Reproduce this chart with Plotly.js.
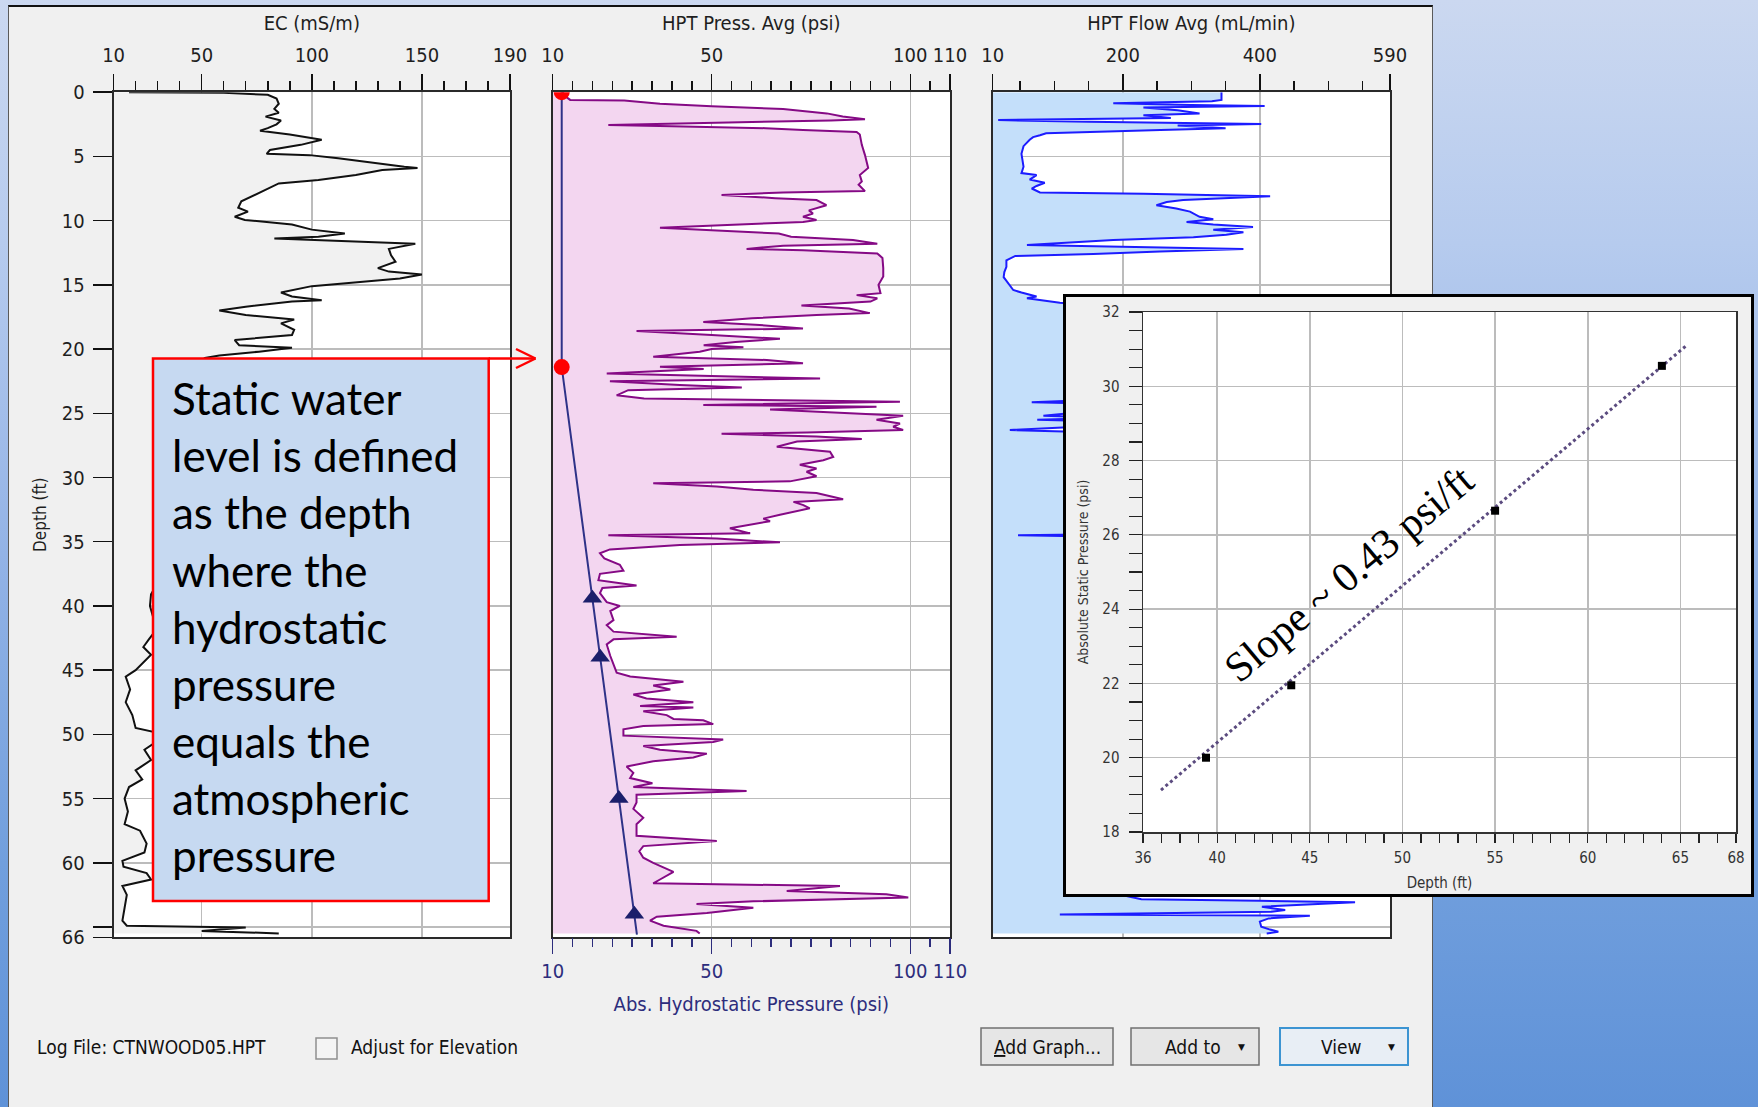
<!DOCTYPE html>
<html><head><meta charset="utf-8">
<script src="https://cdn.plot.ly/plotly-3.0.1.min.js"></script>
<style>
html,body{margin:0;padding:0;}
body{width:1758px;height:1107px;overflow:hidden;position:relative;
background:linear-gradient(to bottom,#cbd8f0 0%,#b6cbee 22%,#93b3e6 50%,#719fdd 78%,#5f92d8 100%);}
#win{position:absolute;left:8px;top:5px;width:1425px;height:1102px;background:#f0f0f0;border-top:2px solid #111;border-left:1px solid #5a5a5a;border-right:1px solid #5a5a5a;box-sizing:border-box;}
#main{position:absolute;left:0;top:0;width:1758px;height:1107px;}
#insetbox{position:absolute;left:1063px;top:294px;width:691px;height:603px;border:3px solid #000;box-sizing:border-box;background:#f0f0f0;}
#inset{width:685px;height:597px;}
</style></head>
<body>
<div id="win"></div>
<div id="main"></div>
<div id="insetbox"><div id="inset"></div></div>
<script>
// ---------------- DATA ----------------
const ecDepth = [0,0.05,0.2,0.5,0.9,1.3,1.6,1.9,2.2,2.5,2.8,3.0,3.3,3.7,4.1,4.5,4.8,4.9,5.15,5.5,5.8,5.9,6.06,6.45,6.84,7.1,7.5,8.0,8.5,9.0,9.3,9.7,9.95,10.3,10.7,11.0,11.25,11.4,11.6,11.8,12.2,12.7,13.2,13.7,13.97,14.2,14.5,14.75,15.1,15.6,15.9,16.2,16.3,16.7,17.0,17.35,17.7,18.0,18.5,18.9,19.3,19.7,19.9,20.2,20.5,20.7,21.5,23,25,27,29,31,33,35,37,38.5,39.1,40,40.9,41.5,42.6,43.2,43.8,44.3,45.0,45.5,46.5,47.5,48.5,49.5,49.8,50.5,51.2,52,52.8,53.5,54.1,55,56,57,57.5,58.5,59.2,59.85,60.3,60.8,61.3,61.8,62.5,63.5,64.5,64.9,65.04,65.3,65.5];
const ecValue = [17,60,80,84,85,83,85,79,86,84,80,76.5,90,104.5,95,81,79.5,99,112,127,142,148,132,120,103,85,80,74,68,66.6,71,65,69.6,91,100,115,103,83,112,147,135,136,138,130,135,150,140,124,100,86,91,104.5,91,70,58,70,92,86,92,91,65,67,91,76,58,51.5,45,40,42,38,36,40,37,34,32,29,27,26.5,28,31,26,23.5,27,24,20,15.5,17.5,15.5,18.5,20,28,30,24,27,20,23,17,15,16.5,15,22,25,24,14,14.5,25,27,14,16,15,14,16,70,50,85];

const hptDepth = [0,0.4,0.6,0.65,0.9,1.1,1.3,1.45,1.65,1.9,2.1,2.2,2.55,2.65,2.8,2.95,3.1,3.3,4.1,4.9,5.9,6.45,6.95,7.2,7.7,7.8,8.0,8.25,8.4,8.8,9.2,9.45,9.7,9.95,10.1,10.3,10.55,10.75,11.0,11.25,11.5,11.8,11.95,12.2,12.3,12.55,12.9,13.7,14.35,15.0,15.65,15.8,16.05,16.3,16.6,16.85,17.2,17.35,17.6,17.9,18.1,18.4,18.6,18.9,19.2,19.45,19.7,19.85,20.0,20.2,20.6,20.85,21.1,21.37,21.55,21.9,22.3,22.5,22.8,23.0,23.2,23.6,23.85,24.1,24.35,24.5,24.7,25.0,25.2,25.5,25.8,26.05,26.3,26.5,26.6,26.8,27.0,27.2,27.6,28.0,28.4,28.65,29.0,29.3,29.55,29.9,30.3,30.45,30.7,30.95,31.2,31.7,31.9,32.15,32.4,32.9,33.2,33.4,33.95,34.35,34.5,34.75,35.05,35.25,35.6,35.9,36.3,36.8,37.25,37.5,38.0,38.4,38.6,39.0,39.7,40.0,40.4,41.1,41.5,42.0,42.4,42.6,43.0,43.9,44.6,45.2,45.5,45.9,46.2,46.5,46.9,47.2,47.5,47.8,47.9,48.2,48.5,48.8,48.9,49.2,49.35,49.6,50.1,50.4,50.6,50.9,51.2,51.5,51.8,52.1,52.5,53.0,53.4,53.8,54.1,54.4,54.7,55.3,55.8,56.5,57.0,57.9,58.3,58.7,59.1,59.6,60.0,60.7,61.3,61.6,61.8,62.2,62.45,62.7,63.0,63.2,63.5,63.9,64.2,64.5,64.9,65.3,65.5];
const hptPress = [12.5,13.5,14.4,28,37,50,68,73,79,83,88.6,80,24,40,63.6,73,86.5,87.3,87.8,88.6,89.4,87.3,87.8,87,88.6,68,52.5,66,76.4,78.9,74.5,75.5,73,76.4,73,57,37,50,66.9,70,85.6,91.7,68,58.8,73,91.7,93,93.2,93.2,92,92.5,86.5,91.7,90,72.6,84.6,89.8,76.4,60.2,47.9,61,73,31.1,50,67.2,56,48,58,50,47,35.3,63.9,73,37,48,23.6,77.3,24.4,42,57.6,29,26.1,33,97.4,47.9,91.5,64.7,84.8,98.2,91.5,97.4,95.7,98.2,74,52.5,76.4,87.8,71.5,66.4,79.8,80.6,78.1,72.2,76.4,73.9,76.4,69.7,35.3,51.3,60.5,76.4,83.1,70.6,73.1,74.7,67.2,63,64.7,54.6,59.7,24,51.3,67.2,42,24.4,21.9,23,26.9,27.8,21.9,21.5,31.1,22.5,21.9,23.6,26.9,24.5,25.3,23.6,25.3,41.2,25.3,23.6,24.5,25.3,26.1,29.5,42.9,35.3,39.6,30.3,33.6,45.4,32,45.4,32.8,38.7,40.4,47.9,50.4,32.8,27.8,27.8,52.9,50.4,32.8,37,48.8,45.4,35.3,28.6,30.3,29.5,35.1,30.3,58.8,31.1,31.1,30.3,32.8,31.1,31.1,51.3,32.8,31.8,32.8,35.3,40.4,37,35.3,82.3,68.9,94,99.5,60.5,46.2,60.5,48.8,36.2,34.5,37.9,46.2,47];

const flowDepth = [0,0.6,0.7,0.87,1.0,1.08,1.2,1.4,1.65,1.8,2.0,2.17,2.3,2.48,2.6,2.8,2.95,3.1,3.2,3.35,3.5,3.7,4.2,4.8,5.8,6.3,6.45,6.8,7.05,7.3,7.5,7.8,7.9,8.1,8.4,8.55,8.8,9.05,9.3,9.7,9.9,10.1,10.3,10.5,10.7,10.9,11.1,11.3,11.5,11.9,12.05,12.2,12.4,12.6,12.75,13.1,13.6,14.0,14.4,14.9,15.4,15.6,15.9,16.05,16.2,16.4,16.6,17.2,18.0,18.8,19.5,20.3,21.0,21.8,22.5,23.3,23.9,24.15,24.3,24.8,25.2,25.35,25.5,25.65,26.0,26.3,26.5,27.2,28.0,29.0,30.0,31.0,32.0,33.0,34.0,34.4,34.5,34.65,35.5,36.5,38.0,40.0,42.0,44.0,46.0,48.0,50.0,52.0,54.0,56.0,58.0,60.0,61.5,62.3,62.84,62.95,63.08,63.42,63.68,63.81,64.02,64.12,64.33,64.58,64.97,65.2,65.37,65.5];
const flowValue = [344,344,330,186,300,407,230,280,312,230,270,18,150,402,280,350,255,132,88,79,69,64,55,52,55,52,74,64,86,74,67,79,230,415,288,264,249,278,298,312,332,293,332,390,332,376,351,303,186,60,200,376,254,157,43,30,30,27,26,33,40,52,74,60,80,108,160,230,260,210,280,240,300,220,270,200,180,67,200,160,84,180,75,190,150,35,170,210,190,230,250,200,220,240,260,200,47,220,380,450,480,500,470,510,420,380,400,450,430,480,470,440,350,180,227,400,539,403,437,417,108,473,413,400,402,415,427,410];

const hydroDepth = [0, 21.4, 65.6];
const hydroPress = [12.27, 12.27, 31.2];
const swlDepth = [0, 21.4];
const swlPress = [12.27, 12.27];
const calDepth = [39.4, 44.0, 55.0, 64.0];
const calPress = [20.0, 21.95, 26.65, 30.55];
const trendDepth = [36.97, 65.33];
const trendPress = [19.13, 31.10];

const depthTicks = [0,5,10,15,20,25,30,35,40,45,50,55,60,65,65.8];
const depthTickText = ['0','5','10','15','20','25','30','35','40','45','50','55','60','','66'];
const ecTicks = [10,50,100,150,190];
const pressTicks = [10,50,100,110];
const flowTicks = [10,200,400,590];
const insetXTicks = [36,40,45,50,55,60,65,68];
const insetYTicks = [18,20,22,24,26,28,30,32];
const noteLines = ['Static water','level is defined','as the depth','where the','hydrostatic','pressure','equals the','atmospheric','pressure'];

// ---------------- LAYOUT HELPERS ----------------
const W = 1758, H = 1107;
const px = x => x / W, py = y => 1 - y / H;
const NARROW = '"Liberation Sans Narrow", "Arial Narrow", "DejaVu Sans Condensed", sans-serif';
const TXT = '#1e1e1e', NAVY = '#2d2d7c', GRID = '#bcbcbc', LINE = '#2a2a2a';
const yDom = [py(937.3), py(92.2)];

function topAxis(dom, anchor, range, ticks, minorDtick, title) {
  return {
    domain: dom, anchor: anchor, side: 'top', range: range, tickmode: 'array', tickvals: ticks,
    ticks: 'outside', ticklen: 16, tickwidth: 1.5, tickcolor: '#111',
    minor: {tick0: 0, dtick: minorDtick, ticks: 'outside', ticklen: 9, tickwidth: 1.5, tickcolor: '#111', showgrid: false},
    showgrid: true, gridcolor: GRID, gridwidth: 1.5, zeroline: false,
    showline: true, mirror: true, linecolor: LINE, linewidth: 2,
    tickfont: {family: NARROW, size: 20, color: TXT}, ticklabelstandoff: 4,
    title: {text: title, font: {family: NARROW, size: 20, color: TXT}, standoff: 7}
  };
}
function depthAxis(anchor, labels) {
  return {
    domain: yDom, anchor: anchor, range: [65.8, 0], tickmode: 'array', tickvals: depthTicks, ticktext: depthTickText,
    ticks: labels ? 'outside' : '', ticklen: 19, tickwidth: 1.5, tickcolor: '#111', showticklabels: labels,
    showgrid: true, gridcolor: GRID, gridwidth: 1.5, zeroline: false,
    showline: true, mirror: true, linecolor: LINE, linewidth: 2,
    tickfont: {family: NARROW, size: 20, color: TXT}, ticklabelstandoff: 4,
    title: labels ? {text: 'Depth (ft)', font: {family: NARROW, size: 17, color: TXT}, standoff: 11} : {text: ''}
  };
}

const traces = [
  {x: ecValue, y: ecDepth, xaxis: 'x', yaxis: 'y', type: 'scatter', mode: 'lines', fill: 'tozerox', fillcolor: '#f1f1f1', line: {color: '#111', width: 2}},
  {x: hptPress, y: hptDepth, xaxis: 'x2', yaxis: 'y2', type: 'scatter', mode: 'lines', fill: 'tozerox', fillcolor: '#f3d6f0', line: {color: '#850a85', width: 2}},
  {x: flowValue, y: flowDepth, xaxis: 'x3', yaxis: 'y3', type: 'scatter', mode: 'lines', fill: 'tozerox', fillcolor: '#c4dffa', line: {color: '#1c1cff', width: 2}},
  {x: hydroPress, y: hydroDepth, xaxis: 'x4', yaxis: 'y2', type: 'scatter', mode: 'lines', line: {color: '#2e3288', width: 2}},
  {x: swlPress, y: swlDepth, xaxis: 'x4', yaxis: 'y2', type: 'scatter', mode: 'markers', marker: {color: '#ff0000', size: 16}},
  {x: calPress, y: calDepth, xaxis: 'x4', yaxis: 'y2', type: 'scatter', mode: 'markers', marker: {color: '#1b1f6b', size: 17, symbol: 'triangle-up'}}
];

const shapes = [
  {type: 'rect', xref: 'paper', yref: 'paper', x0: px(153), x1: px(488.7), y0: py(358.5), y1: py(901), fillcolor: '#c6d9f1', line: {color: '#ff0000', width: 2.5}, layer: 'above'},
  {type: 'line', xref: 'paper', yref: 'paper', x0: px(488.7), x1: px(535.5), y0: py(358.5), y1: py(358.5), line: {color: '#ff0000', width: 2.5}, layer: 'above'},
  {type: 'line', xref: 'paper', yref: 'paper', x0: px(516), x1: px(535.5), y0: py(349), y1: py(358.5), line: {color: '#ff0000', width: 2.5}, layer: 'above'},
  {type: 'line', xref: 'paper', yref: 'paper', x0: px(516), x1: px(535.5), y0: py(368), y1: py(358.5), line: {color: '#ff0000', width: 2.5}, layer: 'above'},
  // checkbox
  {type: 'rect', xref: 'paper', yref: 'paper', x0: px(316), x1: px(337), y0: py(1038), y1: py(1059), fillcolor: '#f4f4f4', line: {color: '#8e8f8f', width: 1.5}, layer: 'above'},
  // buttons
  {type: 'rect', xref: 'paper', yref: 'paper', x0: px(981), x1: px(1113), y0: py(1028), y1: py(1065), fillcolor: '#e6e6e6', line: {color: '#707070', width: 1.5}, layer: 'above'},
  {type: 'rect', xref: 'paper', yref: 'paper', x0: px(1131), x1: px(1259), y0: py(1028), y1: py(1065), fillcolor: '#e6e6e6', line: {color: '#707070', width: 1.5}, layer: 'above'},
  {type: 'rect', xref: 'paper', yref: 'paper', x0: px(1280), x1: px(1408), y0: py(1028), y1: py(1065), fillcolor: '#e8eef5', line: {color: '#3c94d2', width: 2}, layer: 'above'}
];

const annotations = [];
const FIRST_BASE = 415, GAP = 57.1, NOTE_SIZE = 44;
noteLines.forEach((t, i) => {
  annotations.push({xref: 'paper', yref: 'paper', x: px(169.5), y: py(FIRST_BASE + i * GAP - 0.38 * NOTE_SIZE),
    xanchor: 'left', yanchor: 'middle', text: t, showarrow: false, align: 'left',
    font: {family: 'Lato, "Open Sans", sans-serif', size: NOTE_SIZE, color: '#000'}});
});
const ui = [
  ['Log File: CTNWOOD05.HPT', 35, 'left'],
  ['Adjust for Elevation', 349, 'left'],
  ['<span style="text-decoration:underline">A</span>dd Graph...', 1047, 'center'],
  ['Add to', 1193, 'center'],
  ['View', 1341, 'center']
];
ui.forEach(u => annotations.push({xref: 'paper', yref: 'paper', x: px(u[1]), y: py(1047), xanchor: u[2], yanchor: 'middle',
  text: u[0], showarrow: false, font: {family: NARROW, size: 19, color: '#111'}}));
[1241, 1391].forEach(xp => annotations.push({xref: 'paper', yref: 'paper', x: px(xp), y: py(1047), xanchor: 'center', yanchor: 'middle',
  text: '▼', showarrow: false, font: {family: 'DejaVu Sans', size: 9, color: '#111'}}));

const layout = {
  width: W, height: H, margin: {l: 0, r: 0, t: 0, b: 0}, autosize: false,
  paper_bgcolor: 'rgba(0,0,0,0)', plot_bgcolor: '#ffffff', showlegend: false,
  xaxis: topAxis([px(113.6), px(510)], 'y', [10, 190], ecTicks, 10, 'EC (mS/m)'),
  xaxis2: topAxis([px(552.7), px(950)], 'y2', [10, 110], pressTicks, 5, 'HPT Press. Avg (psi)'),
  xaxis3: topAxis([px(992.7), px(1390)], 'y3', [10, 590], flowTicks, 50, 'HPT Flow Avg (mL/min)'),
  xaxis4: {overlaying: 'x2', anchor: 'y2', side: 'bottom', range: [10, 110], tickmode: 'array', tickvals: pressTicks,
    ticks: 'outside', ticklen: 16, tickwidth: 1.5, tickcolor: NAVY,
    minor: {tick0: 0, dtick: 5, ticks: 'outside', ticklen: 9, tickwidth: 1.5, tickcolor: NAVY, showgrid: false},
    showgrid: false, zeroline: false, showline: false,
    tickfont: {family: NARROW, size: 20, color: NAVY}, ticklabelstandoff: 0,
    title: {text: 'Abs. Hydrostatic Pressure (psi)', font: {family: NARROW, size: 20, color: NAVY}, standoff: 14}},
  yaxis: depthAxis('x', true),
  yaxis2: depthAxis('x2', false),
  yaxis3: depthAxis('x3', false),
  shapes: shapes,
  annotations: annotations
};
Plotly.newPlot('main', traces, layout, {staticPlot: true});

// ---------------- INSET ----------------
const insetTraces = [
  {x: trendDepth, y: trendPress, type: 'scatter', mode: 'lines', line: {color: '#5b4b7f', width: 3, dash: 'dot'}},
  {x: calDepth, y: calPress, type: 'scatter', mode: 'markers', marker: {color: '#000', size: 8, symbol: 'square'}}
];
const insetFont = {family: NARROW, size: 15, color: '#333'};
const insetLayout = {
  width: 685, height: 597, margin: {l: 77, r: 15, t: 15, b: 62}, autosize: false,
  paper_bgcolor: '#f0f0f0', plot_bgcolor: '#ffffff', showlegend: false,
  xaxis: {range: [36, 68], tickmode: 'array', tickvals: insetXTicks, ticks: 'outside', ticklen: 9, tickwidth: 1.2, tickcolor: '#222',
    minor: {tick0: 0, dtick: 1, ticks: 'outside', ticklen: 9, tickwidth: 1.2, tickcolor: '#222', showgrid: false},
    showgrid: true, gridcolor: GRID, gridwidth: 1.5, zeroline: false, showline: true, mirror: true, linecolor: '#333', linewidth: 1.5,
    tickfont: insetFont, ticklabelstandoff: 2, title: {text: 'Depth (ft)', font: {family: NARROW, size: 15, color: '#333'}, standoff: 12}},
  yaxis: {range: [18, 32], tickmode: 'array', tickvals: insetYTicks, ticks: 'outside', ticklen: 13, tickwidth: 1.2, tickcolor: '#222',
    minor: {tick0: 0, dtick: 0.5, ticks: 'outside', ticklen: 13, tickwidth: 1.2, tickcolor: '#222', showgrid: false},
    showgrid: true, gridcolor: GRID, gridwidth: 1.5, zeroline: false, showline: true, mirror: true, linecolor: '#333', linewidth: 1.5,
    tickfont: insetFont, ticklabelstandoff: 6, title: {text: 'Absolute Static Pressure (psi)', font: {family: NARROW, size: 14, color: '#333'}, standoff: 10}},
  annotations: [{x: 47.1, y: 24.95, xref: 'x', yref: 'y', text: 'Slope ~ 0.43 psi/ft', textangle: -40, showarrow: false,
    font: {family: '"Liberation Serif", "Times New Roman", serif', size: 42, color: '#000'}}]
};
Plotly.newPlot('inset', insetTraces, insetLayout, {staticPlot: true});
</script>
</body></html>
